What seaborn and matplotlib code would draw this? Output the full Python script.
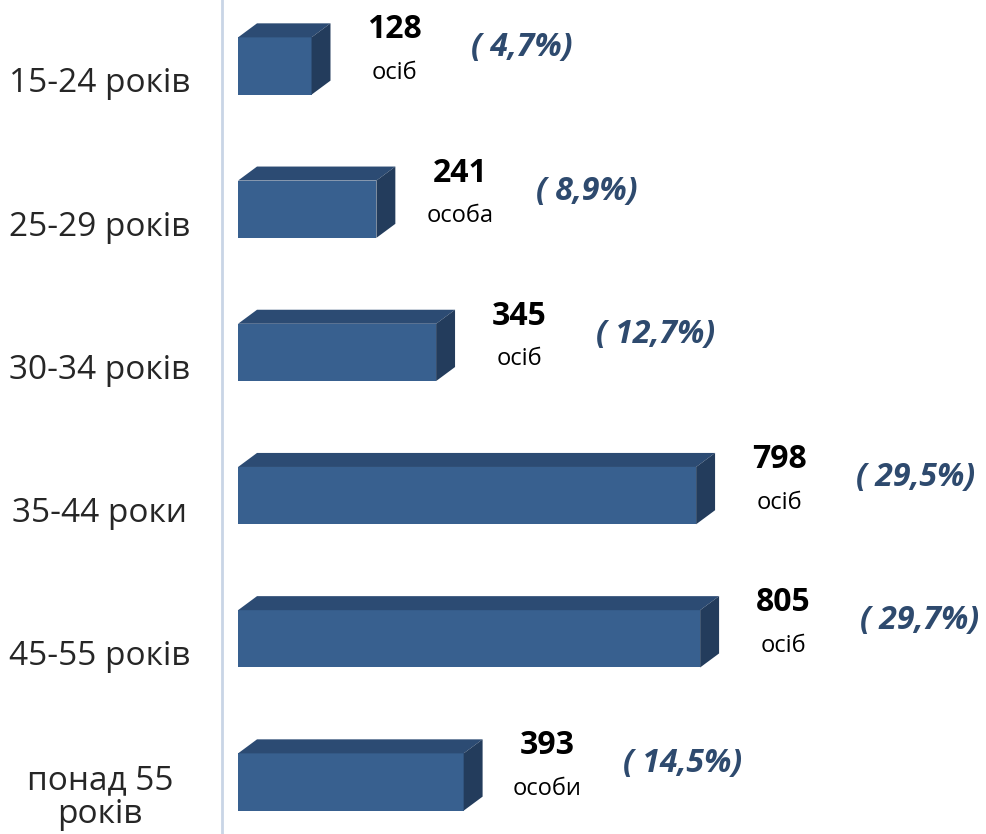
import matplotlib.pyplot as plt
from matplotlib.patches import Polygon
import matplotlib.transforms as mtransforms
import pandas as pd
import seaborn as sns

# Дані
groups = ["15-24 років", "25-29 років", "30-34 років", "35-44 роки", "45-55 років", "понад 55\nроків"]
counts = [128, 241, 345, 798, 805, 393]
units = ["осіб", "особа", "осіб", "осіб", "осіб", "особи"]
shares = ["( 4,7%)", "( 8,9%)", "( 12,7%)", "( 29,5%)", "( 29,7%)", "( 14,5%)"]

FRONT = "#38608F"
TOP = "#2C4B73"
SIDE = "#233C5C"
PCT = "#2E4A6E"
FONT = ["Open Sans", "DejaVu Sans"]

sns.set_style("white")
plt.rcParams["font.family"] = FONT

df = pd.DataFrame({"group": groups, "count": counts})

fig = plt.figure(figsize=(9.86, 8.34), dpi=100)
ax = fig.add_axes([222 / 986, 0, 764 / 986, 1])

sns.barplot(data=df, x="count", y="group", orient="h", color=FRONT,
            width=0.4, saturation=1, linewidth=0, ax=ax)

ax.set_xlim(-28, 1303)
ax.set_ylim(5.363, -0.461)

# 3D грані
dx, dy = 33, 0.098
for bar in ax.patches[:len(counts)]:
    x0 = bar.get_x()
    w = bar.get_width()
    y0 = bar.get_y()
    h = bar.get_height()
    top = Polygon([(x0, y0), (x0 + dx, y0 - dy), (x0 + w + dx, y0 - dy), (x0 + w, y0)],
                  closed=True, facecolor=TOP, edgecolor="none", zorder=3)
    side = Polygon([(x0 + w, y0), (x0 + w + dx, y0 - dy), (x0 + w + dx, y0 + h - dy), (x0 + w, y0 + h)],
                   closed=True, facecolor=SIDE, edgecolor="none", zorder=3)
    ax.add_patch(top)
    ax.add_patch(side)

# Підписи значень
for i, (c, u, s) in enumerate(zip(counts, units, shares)):
    ax.annotate(str(c), (c, i), xytext=(60, 26), textcoords="offset points",
                ha="center", va="center", fontsize=23, fontweight="bold", color="black")
    ax.annotate(u, (c, i), xytext=(60, -5), textcoords="offset points",
                ha="center", va="center", fontsize=17, color="black")
    ax.annotate(s, (c, i), xytext=(115, 13), textcoords="offset points",
                ha="left", va="center", fontsize=23, fontweight="bold",
                fontstyle="italic", color=PCT)

# Осі
for side_name in ["top", "right", "bottom"]:
    ax.spines[side_name].set_visible(False)
ax.spines["left"].set_color("#C9D5E6")
ax.spines["left"].set_linewidth(2)
ax.set_xticks([])
ax.set_xlabel("")
ax.set_ylabel("")
ax.tick_params(axis="y", length=0, pad=88)
ax.set_yticks(range(len(groups)))
ax.set_yticklabels(groups, fontsize=24, ha="center", multialignment="center",
                   linespacing=1.05)
labels = ax.get_yticklabels()
for k, lab in enumerate(labels):
    dy_pt = -10 if k < len(labels) - 1 else -8
    offset = mtransforms.ScaledTranslation(0, dy_pt / 72, fig.dpi_scale_trans)
    lab.set_transform(lab.get_transform() + offset)

fig.savefig("out.png", dpi=100)
